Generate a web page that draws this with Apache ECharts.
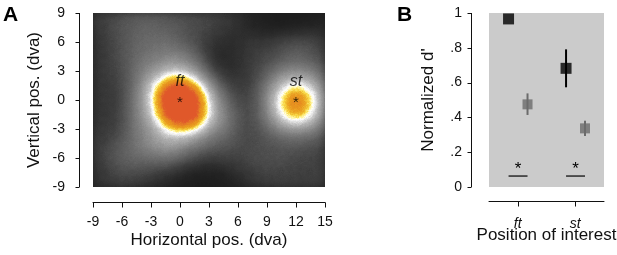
<!DOCTYPE html>
<html>
<head>
<meta charset="utf-8">
<script src="https://cdn.jsdelivr.net/npm/echarts@6/dist/echarts.min.js"></script>
<style>
html, body { margin: 0; padding: 0; background: #fff; }
#chart { width: 617px; height: 255px; }
</style>
</head>
<body>
<div id="chart"></div>
<script>
// ---- panel A: fixation density (arbitrary units), rows from y=9 down to y=-9 ----
var xPos = [-9,-8,-7,-6,-5,-4,-3,-2,-1,0,1,2,3,4,5,6,7,8,9,10,11,12,13,14,15];
var yPos = [9,8,7,6,5,4,3,2,1,0,-1,-2,-3,-4,-5,-6,-7,-8,-9];
var density = [
	[36,38,42,46,50,52,52,50,48,46,44,42,40,38,34,28,22,16,12,10,9,9,10,12,14],
	[34,38,44,50,54,56,56,54,52,50,47,44,42,38,34,28,22,16,12,10,10,11,13,16,18],
	[32,36,44,50,55,58,60,58,56,52,48,44,40,34,30,28,26,22,20,20,22,26,28,28,26],
	[30,34,42,50,56,60,62,64,62,56,48,40,34,28,26,28,32,34,36,40,46,50,48,42,36],
	[30,34,42,50,56,62,66,70,72,70,64,50,32,24,24,28,34,38,40,44,50,54,52,46,38],
	[30,34,40,48,58,66,72,76,80,80,74,58,36,24,24,28,34,40,44,50,56,60,58,50,42],
	[30,34,40,46,58,72,84,92,102,102,92,78,56,32,28,30,36,42,56,70,78,82,78,70,58],
	[30,33,38,44,58,78,96,118,142,145,136,100,78,48,34,32,36,44,66,84,96,104,98,84,66],
	[30,32,36,42,60,82,108,146,160,165,160,138,100,70,48,38,40,48,80,98,124,136,126,102,80],
	[30,32,36,42,64,85,110,152,165,165,165,152,110,80,56,42,42,50,84,108,138,150,140,112,86],
	[30,32,36,42,64,84,104,148,165,165,165,154,112,86,66,48,44,50,80,106,134,146,136,110,82],
	[30,32,36,44,64,80,94,128,156,162,158,146,106,86,70,50,44,48,74,92,112,122,114,94,72],
	[32,34,38,46,64,76,86,104,122,136,134,112,88,76,66,50,44,46,62,76,86,90,86,76,60],
	[34,36,42,50,64,74,84,94,96,94,88,80,70,62,56,46,44,44,50,52,56,58,56,52,48],
	[34,40,48,56,62,70,78,84,86,80,70,60,54,50,48,44,44,46,48,50,50,50,48,44,40],
	[32,40,50,58,60,62,64,66,64,58,50,42,38,38,40,40,44,46,48,48,46,44,42,40,38],
	[30,36,44,50,52,50,48,46,42,36,28,24,22,24,28,34,38,42,44,44,42,40,40,40,38],
	[28,32,38,42,42,38,34,30,24,18,14,12,12,14,18,24,30,36,38,38,38,38,38,38,36],
	[28,30,34,36,34,30,26,22,18,14,12,10,10,12,14,20,26,30,34,36,36,36,36,36,34]
];
var targetNames = ['ft', 'st'];
var targetX = [0, 12];
var targetY = [0, 0];
var targetLabelY = 1.9;
var ticksAx = [-9, -6, -3, 0, 3, 6, 9, 12, 15];
var ticksAy = [-9, -6, -3, 0, 3, 6, 9];

// ---- panel B: normalized d' (null = bar hidden by the marker) ----
var positions = ['ft', 'st'];
var blackD = [0.966, 0.682];
var blackLo = [null, 0.573];
var blackHi = [null, 0.791];
var greyD = [0.475, 0.337];
var greyLo = [0.414, 0.293];
var greyHi = [0.538, 0.381];
var sigLineY = 0.063;
var sigStarY = 0.12;
var ticksBx = [1, 2];
var ticksBy = [0, 0.2, 0.4, 0.6, 0.8, 1];

// colour ramp on the accumulated heat intensity (0..1)
var heatStops = [
	[0.00,'#1a1a1a'],[0.072,'#232323'],[0.137,'#303030'],[0.20,'#424242'],
	[0.26,'#585858'],[0.315,'#6c6c6c'],[0.366,'#808080'],[0.414,'#979797'],
	[0.459,'#b0b0b0'],[0.49,'#cccccc'],[0.512,'#eeeeee'],[0.525,'#ffffff'],
	[0.54,'#fff6a8'],[0.556,'#f8d848'],[0.572,'#eeb42c'],[0.588,'#e8981f'],
	[0.60,'#e6921f'],[0.615,'#e47a26'],[0.63,'#e05e2a'],[0.64,'#e0582a'],[1.00,'#e0582a']
];
function buildRamp(n) {
	var out = [];
	for (var k = 0; k <= n; k++) {
		var t = k / n, s = 0;
		while (s < heatStops.length - 2 && t > heatStops[s + 1][0]) s++;
		var a = heatStops[s], b = heatStops[s + 1];
		var f = (t - a[0]) / (b[0] - a[0]);
		out.push(echarts.color.lerp(Math.max(0, Math.min(1, f)), [a[1], b[1]]));
	}
	return out;
}

echarts.registerMap('field', {
	type: 'FeatureCollection',
	features: [{
		type: 'Feature', properties: { name: 'field' },
		geometry: { type: 'Polygon', coordinates: [[[-9,-9],[15,-9],[15,9],[-9,9],[-9,-9]]] }
	}]
});

var heatData = [];
for (var j = 0; j < yPos.length; j++)
	for (var i = 0; i < xPos.length; i++)
		heatData.push([xPos[i], yPos[j], density[j][i]]);

var axisColor = '#111';
var fontFam = 'Liberation Sans, Arial, sans-serif';

function errBar(color) {
	return function (params, api) {
		var x = api.value(0);
		var a = api.coord([x, api.value(1)]);
		var b = api.coord([x, api.value(2)]);
		return { type: 'line', shape: { x1: a[0], y1: a[1], x2: b[0], y2: b[1] },
			style: { stroke: color, lineWidth: 2 } };
	};
}

// offset axis line + outward ticks, drawn on the plot grid through its scales
// items are [x, y]; for 'y' the x is the left edge, for 'x' the y is the bottom edge
function axisStrokes(dim, lo, hi, gap, len) {
	return function (params, api) {
		var t = api.coord([api.value(0), api.value(1)]);
		var kids = [];
		if (dim === 'x') {
			var yl = Math.round(t[1]) + gap + 0.5, xt = Math.round(t[0]) + 0.5;
			kids.push({ type: 'line', shape: { x1: xt, y1: yl, x2: xt, y2: yl + len },
				style: { stroke: axisColor, lineWidth: 1 } });
			if (params.dataIndex === 0) {
				var a = api.coord(lo), b = api.coord(hi);
				kids.push({ type: 'line', shape: { x1: a[0], y1: yl, x2: b[0], y2: yl },
					style: { stroke: axisColor, lineWidth: 1 } });
			}
		} else {
			var xl = Math.round(t[0]) - gap + 0.5, yt = Math.round(t[1]) + 0.5;
			kids.push({ type: 'line', shape: { x1: xl - len, y1: yt, x2: xl, y2: yt },
				style: { stroke: axisColor, lineWidth: 1 } });
			if (params.dataIndex === 0) {
				var c = api.coord(lo), d = api.coord(hi);
				kids.push({ type: 'line', shape: { x1: xl, y1: c[1], x2: xl, y2: d[1] },
					style: { stroke: axisColor, lineWidth: 1 } });
			}
		}
		return { type: 'group', children: kids };
	};
}
function strokeSeries(grid, dim, ticks, edge, lo, hi, gap, len) {
	var items = ticks.map(function (v) { return dim === 'x' ? [v, edge] : [edge, v]; });
	return { type: 'custom', xAxisIndex: grid, yAxisIndex: grid, z: 4, silent: true,
		data: items, renderItem: axisStrokes(dim, lo, hi, gap, len) };
}

var blackOff = -0.16, greyOff = 0.17;
var blackPts = [], greyPts = [], blackErr = [], greyErr = [], sigData = [];
for (var p = 0; p < positions.length; p++) {
	blackPts.push([p + 1 + blackOff, blackD[p]]);
	greyPts.push([p + 1 + greyOff, greyD[p]]);
	if (blackLo[p] != null) blackErr.push([p + 1 + blackOff, blackLo[p], blackHi[p]]);
	greyErr.push([p + 1 + greyOff, greyLo[p], greyHi[p]]);
	sigData.push([p + 1 + blackOff, p + 1 + greyOff, sigLineY, sigStarY]);
}

var targetMarks = [], targetStars = [];
for (var q = 0; q < targetNames.length; q++) {
	targetMarks.push({ name: targetNames[q], value: [targetX[q], targetLabelY] });
	targetStars.push({ name: '*', value: [targetX[q], targetY[q]] });
}

function merge(o, extra) {
	for (var k in extra) o[k] = extra[k];
	return o;
}
function shownAxis(extra) {
	return merge({
		type: 'value',
		axisLine: { show: false }, axisTick: { show: false },
		splitLine: { show: false },
		nameLocation: 'middle', nameMoveOverlap: false,
		nameTextStyle: { fontSize: 17, color: axisColor }
	}, extra);
}
function hiddenAxis(grid, min, max) {
	return { type: 'value', gridIndex: grid, min: min, max: max, show: false };
}
function box(l, t, w, h, extra) {
	return merge({ left: l, top: t, width: w, height: h, outerBoundsMode: 'none', containLabel: false }, extra);
}

var myChart = echarts.init(document.getElementById('chart'));
var option = {
	animation: false,
	textStyle: { fontFamily: fontFam },
	geo: {
		map: 'field', roam: false, silent: true,
		left: 93, top: 13, width: 232, height: 174,
		aspectScale: 1,
		boundingCoords: [[-9, 9], [15, -9]],
		itemStyle: { areaColor: '#1a1a1a', borderWidth: 0, borderColor: 'rgba(0,0,0,0)' },
		emphasis: { disabled: true },
		label: { show: false }
	},
	visualMap: {
		show: false, type: 'continuous', min: 0, max: 165, seriesIndex: 0,
		inRange: { color: buildRamp(300) }
	},
	grid: [
		box(93, 13, 232, 174),
		box(93, 13, 232, 189),
		box(79, 13, 246, 174),
		box(489, 13, 115, 174, { show: true, backgroundColor: '#cbcbcb', borderWidth: 0 }),
		box(489, 13, 115, 188),
		box(471, 13, 133, 174)
	],
	xAxis: [
		hiddenAxis(0, -9, 15),
		shownAxis({
			gridIndex: 1, min: -9, max: 15, interval: 3,
			axisLine: { show: true, lineStyle: { color: axisColor, width: 1 } },
			axisLabel: { fontSize: 14, color: axisColor, margin: 13 },
			name: 'Horizontal pos. (dva)', nameGap: 30
		}),
		hiddenAxis(2, 0, 1),
		hiddenAxis(3, 0.5, 2.5),
		shownAxis({
			gridIndex: 4, min: 0.5, max: 2.5,
			axisLine: { show: true, lineStyle: { color: axisColor, width: 1 } },
			axisLabel: { fontSize: 14, fontStyle: 'italic', color: axisColor, margin: 16, customValues: ticksBx,
				formatter: function (v) { return positions[Math.round(v) - 1] || ''; } },
			name: 'Position of interest', nameGap: 26
		}),
		hiddenAxis(5, 0, 1)
	],
	yAxis: [
		hiddenAxis(0, -9, 9),
		hiddenAxis(1, 0, 1),
		shownAxis({
			gridIndex: 2, min: -9, max: 9, interval: 3, position: 'left',
			axisLabel: { fontSize: 14, color: axisColor, margin: 14 },
			name: 'Vertical pos. (dva)', nameGap: 36
		}),
		hiddenAxis(3, 0, 1),
		hiddenAxis(4, 0, 1),
		shownAxis({
			gridIndex: 5, min: 0, max: 1, interval: 0.2, position: 'left',
			axisLabel: { fontSize: 14, color: axisColor, margin: 9,
				formatter: function (v) {
					if (v === 0) return '0';
					if (v === 1) return '1';
					return ('' + Math.round(v * 10) / 10).replace('0.', '.');
				} },
			name: "Normalized d'", nameGap: 34
		})
	],
	graphic: [
		{ type: 'text', left: 3, top: 5, style: { text: 'A', font: 'bold 21px ' + fontFam, fill: '#000' } },
		{ type: 'text', left: 397, top: 5, style: { text: 'B', font: 'bold 21px ' + fontFam, fill: '#000' } }
	],
	series: [{
		type: 'heatmap', coordinateSystem: 'geo', geoIndex: 0, data: heatData,
		pointSize: 6, blurSize: 16, minOpacity: 1, maxOpacity: 1, silent: true
	}, {
		type: 'scatter', xAxisIndex: 0, yAxisIndex: 0, data: targetMarks, symbolSize: 0, z: 5, silent: true,
		label: { show: true, position: 'inside', formatter: '{b}', fontSize: 16, fontStyle: 'italic', color: '#000' }
	}, {
		type: 'scatter', xAxisIndex: 0, yAxisIndex: 0, data: targetStars, symbolSize: 0, z: 5, silent: true,
		label: { show: true, position: 'inside', formatter: '*', fontSize: 15, color: '#000', offset: [0, 3] }
	},
	strokeSeries(0, 'x', ticksAx, -9, [-9, -9], [15, -9], 15, 5),
	strokeSeries(0, 'y', ticksAy, -9, [-9, -9], [-9, 9], 14, 4),
	strokeSeries(3, 'x', ticksBx, 0, [0.5, 0], [2.5, 0], 14, 5),
	strokeSeries(3, 'y', ticksBy, 0.5, [0.5, 0], [0.5, 1], 18, 4),
	{
		type: 'custom', xAxisIndex: 3, yAxisIndex: 3, data: blackErr, renderItem: errBar('#000'), z: 3, silent: true
	}, {
		type: 'custom', xAxisIndex: 3, yAxisIndex: 3, data: greyErr, renderItem: errBar('#6b6b6b'), z: 3, silent: true
	}, {
		type: 'scatter', xAxisIndex: 3, yAxisIndex: 3, data: blackPts, symbol: 'rect', symbolSize: 11,
		itemStyle: { color: '#000' }, z: 4, silent: true
	}, {
		type: 'scatter', xAxisIndex: 3, yAxisIndex: 3, data: greyPts, symbol: 'rect', symbolSize: 10,
		itemStyle: { color: '#6b6b6b' }, z: 4, silent: true
	}, {
		type: 'custom', xAxisIndex: 3, yAxisIndex: 3, data: sigData, z: 4, silent: true,
		renderItem: function (params, api) {
			var a = api.coord([api.value(0), api.value(2)]);
			var b = api.coord([api.value(1), api.value(2)]);
			var c = api.coord([(api.value(0) + api.value(1)) / 2, api.value(3)]);
			return { type: 'group', children: [
				{ type: 'line', shape: { x1: a[0], y1: a[1], x2: b[0], y2: b[1] }, style: { stroke: '#000', lineWidth: 1.2 } },
				{ type: 'text', x: c[0], y: c[1] + 3, style: { text: '*', font: '17px ' + fontFam, fill: '#000', align: 'center', verticalAlign: 'middle' } }
			] };
		}
	}]
};
myChart.setOption(option);
</script>
</body>
</html>
